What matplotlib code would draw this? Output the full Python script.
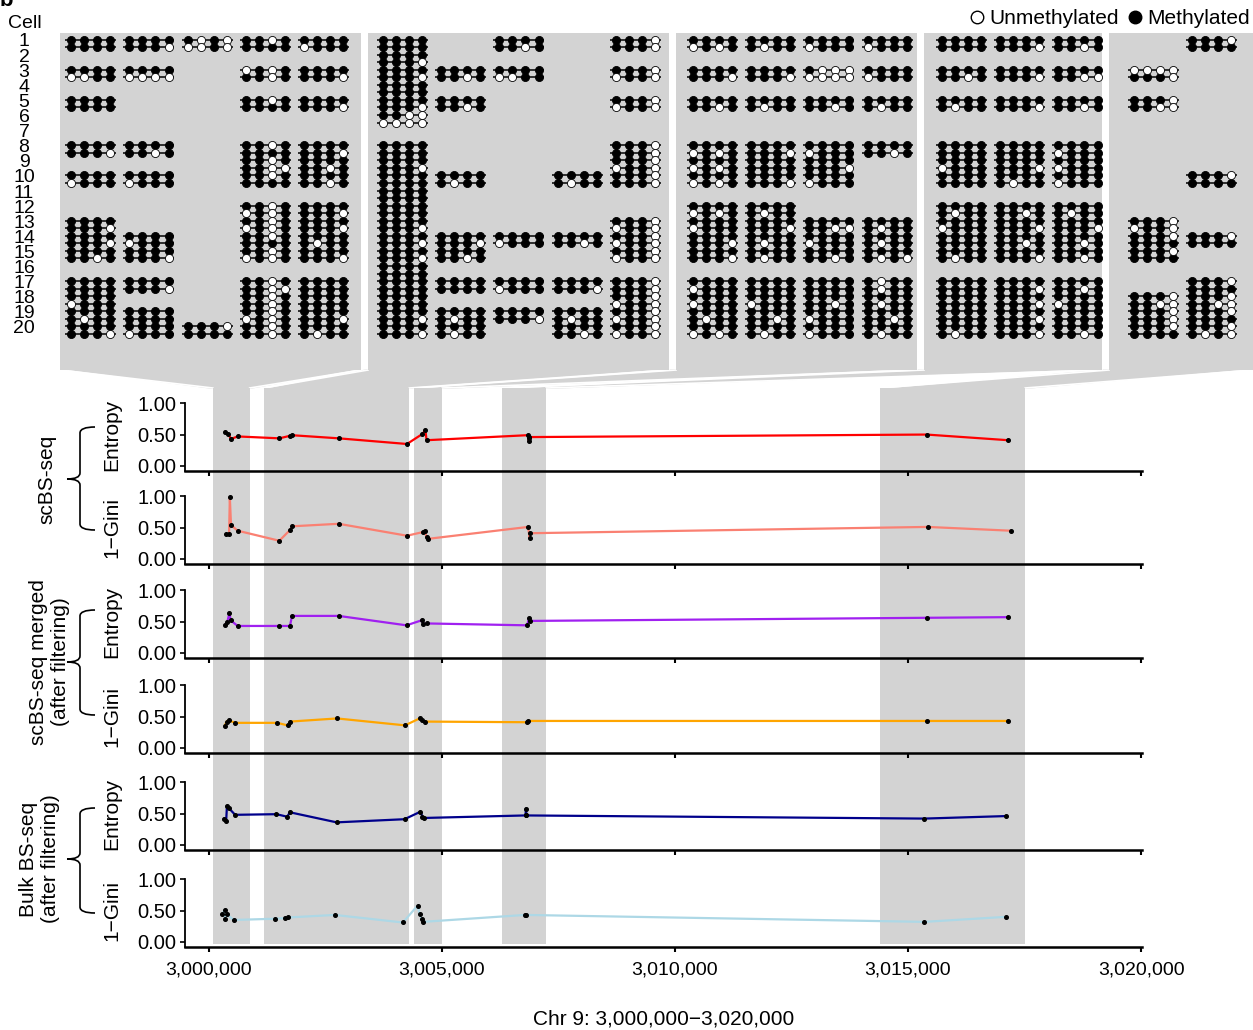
#!/usr/bin/env python3

import matplotlib
matplotlib.use('Agg')
import matplotlib.pyplot as plt
from matplotlib.path import Path
from matplotlib.patches import PathPatch, Polygon
from matplotlib.lines import Line2D

plt.rcParams['font.family'] = ['Liberation Sans', 'DejaVu Sans']

# ---------------- data ----------------
cells = list(range(1, 21))

# methylation reads: per panel, per block {cell: "read1 read2"}, 1 = methylated
panel1 = [
    {1: "1111 1111", 3: "1111 0011", 5: "1111 1111", 8: "1111 1110", 10: "1111 0111",
     13: "1111 1110", 14: "1111 1110", 15: "1111 1101", 17: "1111 1111", 18: "1111 0111",
     19: "1111 1011", 20: "1111 1110"},
    {1: "1111 1110", 3: "1111 0000", 8: "1111 1101", 10: "1111 0111", 14: "1111 0111",
     15: "1111 1110", 17: "1111 1110", 19: "1111 1111", 20: "1111 0111"},
    {1: "1010 0010", 20: "1110 1111"},
    {1: "1101 1111", 3: "0101 1101", 5: "1101 1111", 8: "1101 1111", 9: "1101 1100",
     10: "1101 1111", 12: "1101 0101", 13: "1101 0101", 14: "1101 1111", 15: "1101 0101",
     17: "1101 1100", 18: "1101 1101", 19: "1101 0101", 20: "1101 1101"},
    {1: "1111 0111", 3: "1111 1110", 5: "1111 1110", 8: "1111 1110", 9: "1111 1101",
     10: "1111 1101", 12: "1111 1110", 13: "1111 1110", 14: "1111 1011", 15: "1111 1110",
     17: "1111 1111", 18: "1111 1111", 19: "1111 1110", 20: "1111 1011"},
]
panel2 = [
    {1: "1111 1111", 2: "1111 1110", 3: "1111 1110", 4: "1111 1111", 5: "1111 1110",
     6: "1100 0000", 8: "1111 1111", 9: "1111 1110", 10: "1111 1111", 11: "1111 1111",
     12: "1111 1111", 13: "1111 1110", 14: "1111 1110", 15: "1111 1110", 16: "1111 1111",
     17: "1111 1111", 18: "1111 1111", 19: "1111 1110", 20: "1111 1110"},
    {3: "1111 1101", 5: "1111 1101", 10: "1111 1011", 14: "1111 1110", 15: "1111 1101",
     17: "1111 1111", 19: "1111 1011", 20: "1111 1011"},
    {1: "1111 1101", 3: "1111 0011", 14: "1111 0111", 17: "1111 0111", 19: "1111 1110"},
    {10: "1111 1011", 14: "1111 1101", 17: "1111 1110", 19: "1111 1011", 20: "1111 1101"},
    {1: "1110 1110", 3: "1110 0110", 5: "1110 0110", 8: "1110 1110", 9: "1110 0110",
     10: "1110 1110", 13: "1110 0110", 14: "1110 0110", 15: "1110 0110", 17: "1110 1110",
     18: "1110 0110", 19: "1110 0110", 20: "1110 0110"},
]
panel3 = [
    {1: "1111 0101", 3: "1111 1110", 5: "1111 1101", 8: "1111 0101", 9: "1111 0101",
     10: "1111 0101", 12: "1111 0101", 13: "1111 0111", 14: "1111 1110", 15: "1111 1110",
     17: "1111 0111", 18: "1111 0111", 19: "1111 1011", 20: "1111 0101"},
    {1: "1111 1011", 3: "1111 1110", 5: "1111 1011", 8: "1111 1110", 9: "1111 1111",
     10: "1111 1110", 12: "1111 1011", 13: "1111 1110", 14: "1111 1011", 15: "1111 1011",
     17: "1111 1111", 18: "1111 0111", 19: "1111 1101", 20: "1111 1011"},
    {1: "1111 0111", 3: "1000 0000", 5: "1111 1101", 8: "1111 0111", 9: "1111 1110",
     10: "1111 0111", 13: "1111 1100", 14: "1111 0111", 15: "1111 1101", 17: "1111 1111",
     18: "1111 1101", 19: "1111 0111", 20: "1111 0111"},
    {1: "1111 0111", 3: "1111 0111", 5: "1111 1011", 8: "1111 1101", 13: "1111 1011",
     14: "1111 1011", 15: "1111 1010", 17: "1011 1011", 18: "1111 1011", 19: "1111 1101",
     20: "1111 1011"},
]
panel4 = [
    {1: "1111 1111", 3: "1111 1101", 5: "1111 1011", 8: "1111 1111", 9: "1111 0111",
     10: "1111 1111", 12: "1111 1011", 13: "1111 0111", 14: "1111 1111", 15: "1111 1011",
     17: "1111 1111", 18: "1111 1111", 19: "1111 1111", 20: "1111 1011"},
    {1: "1111 1110", 3: "1111 1110", 5: "1111 1110", 8: "1111 1111", 9: "1111 1110",
     10: "1111 1011", 12: "1111 1101", 13: "1111 1110", 14: "1111 1101", 15: "1111 1110",
     17: "1111 1110", 18: "1111 1110", 19: "1111 1110", 20: "1111 1110"},
    {1: "1111 1101", 3: "1111 1100", 5: "1111 1101", 8: "1111 0111", 9: "1111 0111",
     10: "1111 0111", 12: "1111 1011", 13: "1111 1110", 14: "1111 1101", 15: "1111 1101",
     17: "1111 1101", 18: "1111 0111", 19: "1111 1111", 20: "1111 1101"},
]
panel5 = [
    {3: "0000 1110", 5: "1110 1100", 13: "1110 0110", 14: "1110 1111", 15: "1110 1111",
     18: "1110 1100", 19: "1110 1110", 20: "1110 1111"},
    {1: "1110 1111", 10: "1110 1111", 14: "1110 1111", 17: "1110 1111", 18: "1110 1100",
     19: "1110 1111", 20: "1110 1010"},
]

# shaded genomic regions (bp), one per panel
region_start = [3000086, 3001178, 3004411, 3006296, 3014390]
region_end = [3000878, 3004304, 3005011, 3007238, 3017516]

# heterogeneity tracks
ent_sc_x = [3000355, 3000418, 3000477, 3000619, 3001514, 3001741, 3001777, 3002786, 3004252,
            3004584, 3004647, 3004672, 3006841, 3006860, 3006867, 3006875, 3015400, 3017150]
ent_sc_y = [0.54, 0.51, 0.43, 0.47, 0.44, 0.48, 0.49, 0.44, 0.35,
            0.51, 0.57, 0.41, 0.49, 0.44, 0.40, 0.46, 0.50, 0.41]

gini_sc_x = [3000373, 3000435, 3000452, 3000477, 3000619, 3001514, 3001741, 3001786, 3002786,
             3004252, 3004604, 3004629, 3004672, 3004700, 3006850, 3006884, 3006890, 3015420,
             3017200]
gini_sc_y = [0.39, 0.40, 0.98, 0.54, 0.45, 0.29, 0.46, 0.52, 0.56,
             0.37, 0.43, 0.45, 0.35, 0.32, 0.51, 0.33, 0.41, 0.51,
             0.45]

ent_merged_x = [3000355, 3000398, 3000443, 3000469, 3000619, 3001505, 3001741, 3001786, 3002786,
                3004242, 3004567, 3004604, 3004672, 3006831, 3006867, 3006884, 3015400, 3017150]
ent_merged_y = [0.45, 0.49, 0.64, 0.52, 0.43, 0.43, 0.43, 0.59, 0.59,
                0.44, 0.52, 0.46, 0.47, 0.44, 0.55, 0.51, 0.56, 0.57]

gini_merged_x = [3000338, 3000381, 3000426, 3000565, 3001469, 3001689, 3001741, 3002752,
                 3004208, 3004524, 3004584, 3004629, 3006822, 3006850, 3015400, 3017150]
gini_merged_y = [0.35, 0.42, 0.44, 0.40, 0.40, 0.36, 0.42, 0.47,
                 0.36, 0.47, 0.44, 0.42, 0.41, 0.43, 0.43, 0.43]

ent_bulk_x = [3000330, 3000373, 3000390, 3000426, 3000565, 3001452, 3001681, 3001741, 3002743,
              3004199, 3004542, 3004584, 3004621, 3006795, 3006805, 3006815, 3015350, 3017100]
ent_bulk_y = [0.42, 0.38, 0.62, 0.59, 0.48, 0.49, 0.45, 0.52, 0.36,
              0.41, 0.53, 0.45, 0.43, 0.47, 0.58, 0.47, 0.42, 0.46]

gini_bulk_x = [3000285, 3000338, 3000347, 3000390, 3000531, 3001418, 3001636, 3001689, 3002707,
               3004165, 3004480, 3004524, 3004567, 3004593, 3006779, 3006805, 3015350, 3017100]
gini_bulk_y = [0.44, 0.51, 0.37, 0.44, 0.35, 0.37, 0.38, 0.39, 0.43,
               0.31, 0.58, 0.44, 0.37, 0.32, 0.43, 0.43, 0.32, 0.40]

x_ticks = [3000000, 3005000, 3010000, 3015000, 3020000]
y_ticks = [0.0, 0.5, 1.0]

# ---------------- layout (pixels) ----------------
W, H = 1253, 1030
GRAY = '#D3D3D3'
PANEL_TOP, PANEL_BOTTOM = 33, 370
COLUMN_TOP, COLUMN_BOTTOM = 388, 944
AX_LEFT, AX_RIGHT = 185, 1142
AX_TOPS = [400, 493, 587, 682, 779, 876]
AX_HEIGHT = 71
XLIM = (2999490, 3020020)
YLIM = (-0.08, 1.05)

SLOT_Y0, SLOT_DY = 39.5, 7.55
DOT_DX, BLOCK_DX = 13.1, 4.45
panel_left = [60, 368, 676, 924, 1109]
panel_right = [361, 669, 917, 1102, 1253]
panel_first_dot = [71, 382.7, 692.7, 941.7, 1133.7]


def fig_rect(left, top, right, bottom):
    return [left / W, 1 - bottom / H, (right - left) / W, (bottom - top) / H]


def draw_panel(fig, blocks, left, right, first_dot):
    ax = fig.add_axes(fig_rect(left, PANEL_TOP, right, PANEL_BOTTOM))
    ax.set_facecolor(GRAY)
    for sp in ax.spines.values():
        sp.set_visible(False)
    ax.set_xticks([])
    ax.set_yticks([])
    ax.set_xlim((left - first_dot) / DOT_DX, (right - first_dot) / DOT_DX)
    ax.set_ylim((PANEL_BOTTOM - SLOT_Y0) / SLOT_DY, (PANEL_TOP - SLOT_Y0) / SLOT_DY)

    ly, lx0, lx1 = [], [], []
    mx, my, ux, uy = [], [], [], []
    for b, block in enumerate(blocks):
        x0 = b * BLOCK_DX
        for cell, reads in block.items():
            for k, pattern in enumerate(reads.split()):
                slot = 2 * (cell - 1) + k
                ly.append(slot)
                lx0.append(x0 - 0.45)
                lx1.append(x0 + 3.45)
                for j, ch in enumerate(pattern):
                    if ch == '1':
                        mx.append(x0 + j)
                        my.append(slot)
                    else:
                        ux.append(x0 + j)
                        uy.append(slot)
    ax.hlines(ly, lx0, lx1, color='black', lw=1.1, zorder=1)
    ax.scatter(mx, my, s=34, facecolor='black', edgecolor='black', lw=0.6, zorder=2)
    ax.scatter(ux, uy, s=34, facecolor='white', edgecolor='black', lw=0.6, zorder=3)
    return ax


def draw_brace(ax, x, y_top, y_mid, y_bot, hook_x, notch_x, r=6):
    verts = [(hook_x, y_top), (x, y_top), (x, y_top + r), (x, y_mid - r), (x, y_mid), (notch_x, y_mid),
             (notch_x, y_mid), (x, y_mid), (x, y_mid + r), (x, y_bot - r), (x, y_bot), (hook_x, y_bot)]
    codes = [Path.MOVETO, Path.CURVE3, Path.CURVE3, Path.LINETO, Path.CURVE3, Path.CURVE3,
             Path.MOVETO, Path.CURVE3, Path.CURVE3, Path.LINETO, Path.CURVE3, Path.CURVE3]
    ax.add_patch(PathPatch(Path(verts, codes), fill=False, lw=1.2, color='black'))


def main():
    fig = plt.figure(figsize=(W / 100, H / 100), dpi=100)

    bg = fig.add_axes([0, 0, 1, 1], zorder=-1)
    bg.set_xlim(0, W)
    bg.set_ylim(H, 0)
    bg.axis('off')

    panels = [panel1, panel2, panel3, panel4, panel5]
    for p, blocks in enumerate(panels):
        draw_panel(fig, blocks, panel_left[p], panel_right[p], panel_first_dot[p])

    # shaded regions behind the tracks
    shade = fig.add_axes(fig_rect(AX_LEFT, COLUMN_TOP, AX_RIGHT, COLUMN_BOTTOM), zorder=0)
    shade.set_xlim(*XLIM)
    shade.axis('off')
    for lo, hi in zip(region_start, region_end):
        shade.axvspan(lo, hi, color=GRAY, lw=0)

    # funnels linking each panel to its region
    inv = bg.transData.inverted()
    for p in range(len(panels)):
        cl = inv.transform(shade.transData.transform((region_start[p], 0)))[0]
        cr = inv.transform(shade.transData.transform((region_end[p], 0)))[0]
        pl, pr = panel_left[p], panel_right[p]
        bg.add_patch(Polygon([(pl, PANEL_BOTTOM - 1), (pr, PANEL_BOTTOM - 1),
                              (cr, COLUMN_TOP + 1), (cl, COLUMN_TOP + 1)],
                             closed=True, facecolor=GRAY, edgecolor='none'))
        bg.plot([pl, cl], [PANEL_BOTTOM, COLUMN_TOP], color='white', lw=1.2)
        bg.plot([pr, cr], [PANEL_BOTTOM, COLUMN_TOP], color='white', lw=1.2)

    # cell labels
    fig.text(8 / W, 1 - 23 / H, 'Cell', fontsize=14, ha='left', va='center')
    for c in cells:
        py = SLOT_Y0 + SLOT_DY * 2 * (c - 1) + 2.5
        fig.text(24 / W, 1 - py / H, str(c), fontsize=14, ha='center', va='center')
    fig.text(0, 1 - 6 / H, 'b', fontsize=16, fontweight='bold', ha='left', va='baseline')

    handles = [Line2D([], [], ls='', marker='o', ms=9, mfc='white', mec='black', mew=1, label='Unmethylated'),
               Line2D([], [], ls='', marker='o', ms=9, mfc='black', mec='black', mew=1, label='Methylated')]
    fig.legend(handles=handles, loc='upper right', bbox_to_anchor=(1.0, 1 - 6 / H), ncol=2, frameon=False,
               fontsize=15, handlelength=0.7, handletextpad=0.25, columnspacing=0.4,
               borderaxespad=0.05, borderpad=0.1)

    # tracks
    tracks = [
        (ent_sc_x, ent_sc_y, '#FF0000', 'Entropy'),
        (gini_sc_x, gini_sc_y, '#FA8072', '1\u2212Gini'),
        (ent_merged_x, ent_merged_y, '#A020F0', 'Entropy'),
        (gini_merged_x, gini_merged_y, '#FFA500', '1\u2212Gini'),
        (ent_bulk_x, ent_bulk_y, '#00008B', 'Entropy'),
        (gini_bulk_x, gini_bulk_y, '#ADD8E6', '1\u2212Gini'),
    ]
    for i, (xs, ys, color, label) in enumerate(tracks):
        top = AX_TOPS[i]
        ax = fig.add_axes(fig_rect(AX_LEFT, top, AX_RIGHT, top + AX_HEIGHT), zorder=1)
        ax.patch.set_alpha(0)
        ax.plot(xs, ys, color=color, lw=1.6, zorder=2)
        ax.plot(xs, ys, 'o', color='black', ms=2.6, zorder=3)
        ax.set_xlim(*XLIM)
        ax.set_ylim(*YLIM)
        ax.spines['top'].set_visible(False)
        ax.spines['right'].set_visible(False)
        ax.spines['left'].set_bounds(YLIM[0], 1.0)
        ax.spines['left'].set_linewidth(1.3)
        ax.spines['bottom'].set_linewidth(1.8)
        ax.set_yticks(y_ticks)
        ax.set_yticklabels([f'{v:.2f}' for v in y_ticks])
        ax.set_xticks(x_ticks)
        ax.tick_params(axis='y', length=3.5, width=1.2, pad=2.5, labelsize=14.5)
        ax.tick_params(axis='x', length=3.5, width=1.5, pad=7, labelsize=14)
        if i == len(tracks) - 1:
            ax.set_xticklabels([f'{v:,}' for v in x_ticks])
        else:
            ax.set_xticklabels([])
        ax.text((112 - AX_LEFT) / (AX_RIGHT - AX_LEFT), 0.5, label, transform=ax.get_yaxis_transform(),
                rotation=90, ha='center', va='center', fontsize=15)

    # group labels and braces
    groups = [('scBS-seq', 47, 427, 479, 530),
              ('scBS-seq merged\n(after filtering)', 50, 610, 662, 715),
              ('Bulk BS-seq\n(after filtering)', 40, 808, 859, 913)]
    for text, gx, y_top, y_mid, y_bot in groups:
        fig.text(gx / W, 1 - y_mid / H, text, rotation=90, ha='center', va='center',
                 fontsize=15, linespacing=1.2)
        draw_brace(bg, 80, y_top, y_mid, y_bot, 95, 67)

    fig.text((AX_LEFT + AX_RIGHT) / 2 / W, 1 - 1019 / H, 'Chr 9: 3,000,000\u22123,020,000',
             ha='center', va='center', fontsize=15)

    fig.savefig('out.png', dpi=100)
    plt.close(fig)


if __name__ == "__main__":
    main()
